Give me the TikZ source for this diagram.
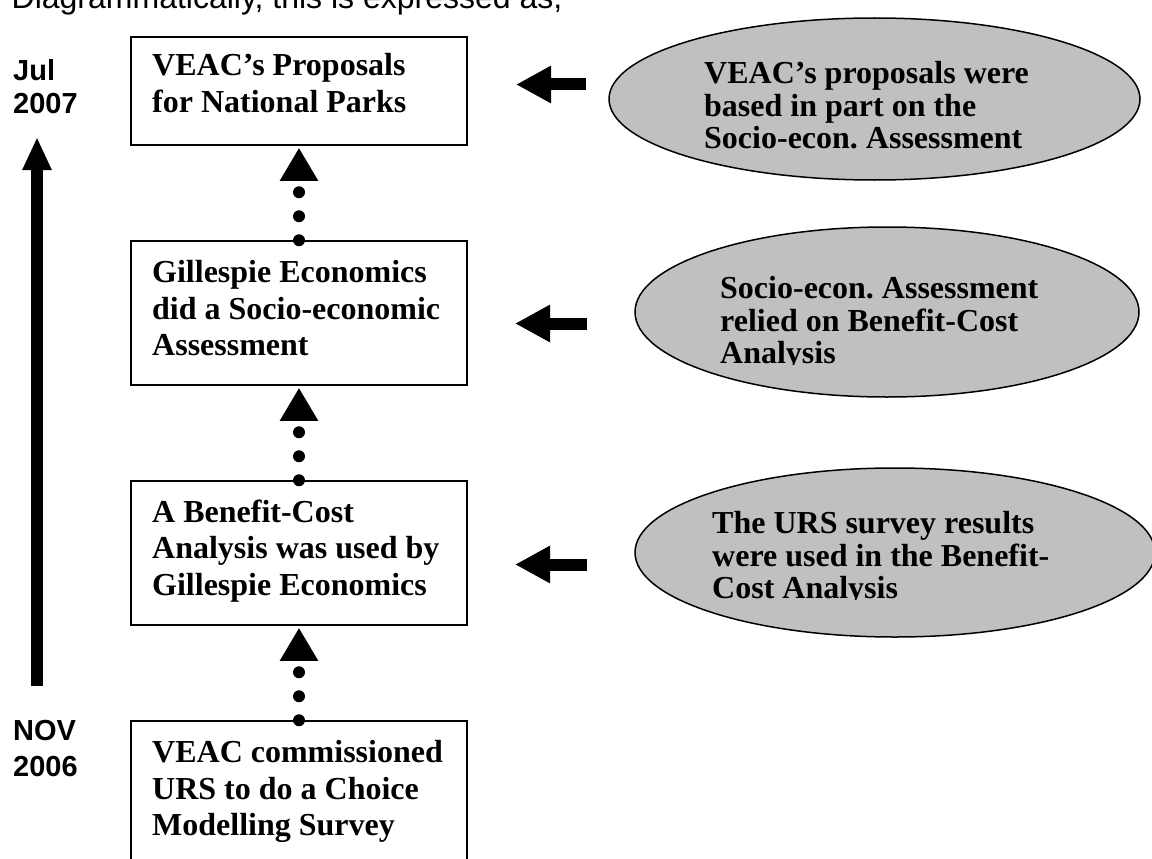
\documentclass[tikz,border=0pt]{standalone}
\usepackage{fontspec}
\setmainfont{Liberation Serif}
\newfontfamily\arialf{Liberation Sans}
\usetikzlibrary{arrows.meta,shapes.geometric}
\definecolor{ellgray}{RGB}{192,192,192}
\frenchspacing
\begin{document}
\begin{tikzpicture}[x=1pt,y=-1pt,
  boxst/.style={draw=black, line width=1.5pt, rectangle, minimum width=336pt, inner sep=0pt},
  ellst/.style={draw=black, line width=1.5pt, fill=ellgray, ellipse, inner sep=0pt},
  boxtxt/.style={font=\bfseries\fontsize{32}{36.5}\selectfont, align=left, inner sep=0pt, anchor=north west},
  elltxt/.style={font=\bfseries\fontsize{32}{32.5}\selectfont, align=left, inner sep=0pt, anchor=north west},
  datetxt/.style={font=\arialf\bfseries\fontsize{29}{33}\selectfont, align=left, inner sep=0pt, anchor=north west},
  dotconn/.style={line width=12pt, line cap=round, dash pattern=on 0pt off 24pt, -{Triangle[length=33pt,width=36pt]}},
  blockarr/.style={line width=12pt, -{Triangle[length=35pt,width=35pt]}},
  tlarr/.style={line width=12.5pt, -{Triangle[length=33pt,width=27pt]}}
]
\clip (0,0) rectangle (1152,859);
\fill[white] (0,0) rectangle (1152,859);

% heading (cut off at the top, as in the reference)
\node[font=\arialf\fontsize{32}{36}\selectfont, inner sep=0pt, anchor=base west] (head) at (11.5,8.5) {Diagrammatically, this is expressed as,};

% timeline
\coordinate (tlbot) at (37,686);
\coordinate (tltop) at (37,137);
\draw[tlarr] (tlbot) -- (tltop);
\node[datetxt] (jul) at (13,59.2) {Jul\\2007};
\node[datetxt, font=\arialf\bfseries\fontsize{29}{36}\selectfont] (nov) at (13,720.2) {NOV\\2006};

% boxes
\node[boxst, minimum height=108pt] (b1) at (299,91) {};
\node[boxst, minimum height=144pt] (b2) at (299,313) {};
\node[boxst, minimum height=144pt] (b3) at (299,553) {};
\node[boxst, minimum height=144pt] (b4) at (299,793) {};

\node[boxtxt] (t1) at (152,53.3) {VEAC’s Proposals\\for National Parks};
\node[boxtxt] (t2) at (152,260.3) {Gillespie Economics\\did a Socio-economic\\Assessment};
\node[boxtxt] (t3) at (152,499.3) {A Benefit-Cost\\Analysis was used by\\Gillespie Economics};
\node[boxtxt] (t4) at (152,740.3) {VEAC commissioned\\URS to do a Choice\\Modelling Survey};

% dotted connectors
\draw[dotconn] (b2.north) -- ([yshift=-2pt]b1.south);
\draw[dotconn] (b3.north) -- ([yshift=-2pt]b2.south);
\draw[dotconn] (b4.north) -- ([yshift=-2pt]b3.south);

% ellipses
\node[ellst, minimum width=531pt, minimum height=162pt] (e1) at (874.5,99) {};
\node[ellst, minimum width=504pt, minimum height=170pt] (e2) at (887,312) {};
\node[ellst, minimum width=520pt, minimum height=169pt] (e3) at (895,552.5) {};

\node[elltxt] (u1) at (704,61.3) {VEAC’s proposals were\\based in part on the\\Socio-econ. Assessment};
\begin{scope}
\clip (690,250) rectangle (1100,364);
\node[elltxt] (u2) at (720,276.3) {Socio-econ. Assessment\\relied on Benefit-Cost\\Analysis};
\end{scope}
\begin{scope}
\clip (690,490) rectangle (1100,599.5);
\node[elltxt] (u3) at (712,511.3) {The URS survey results\\were used in the Benefit-\\Cost Analysis};
\end{scope}

% block arrows
\coordinate (a1s) at (586,84.5);
\coordinate (a1e) at (516,84.5);
\coordinate (a2s) at (587,323.5);
\coordinate (a2e) at (515,323.5);
\coordinate (a3s) at (587,564.5);
\coordinate (a3e) at (515,564.5);
\draw[blockarr] (a1s) -- (a1e);
\draw[blockarr] (a2s) -- (a2e);
\draw[blockarr] (a3s) -- (a3e);
\end{tikzpicture}
\end{document}
